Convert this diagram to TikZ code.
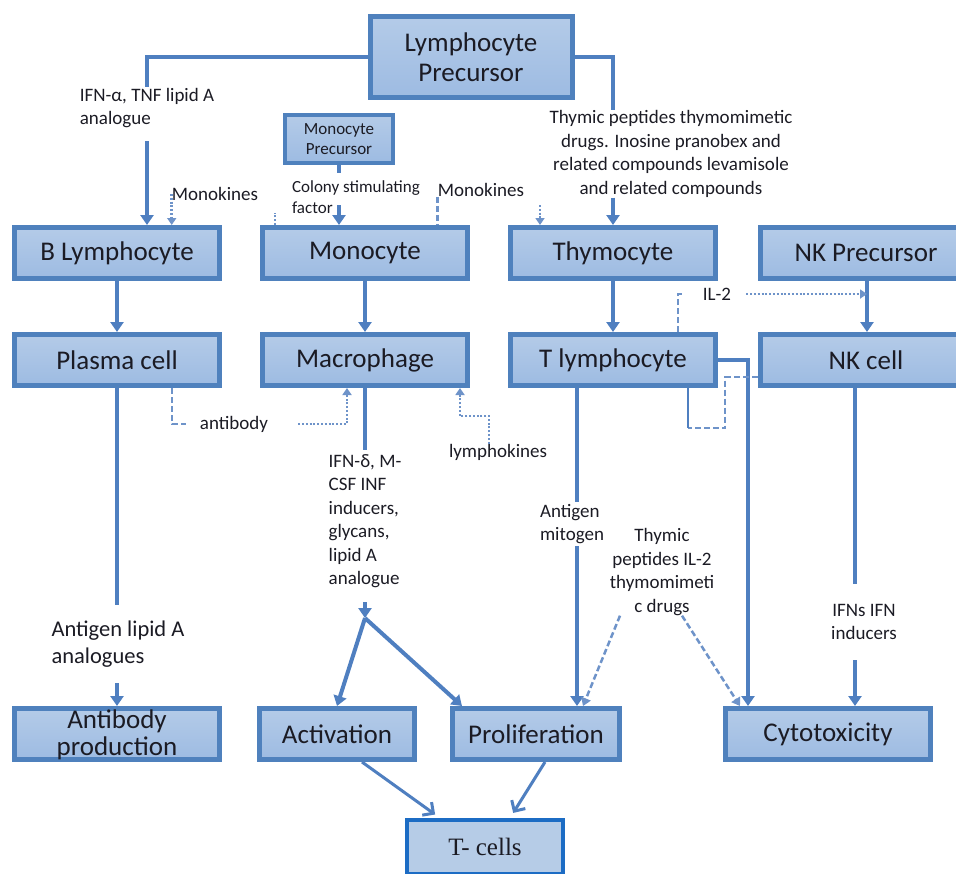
\documentclass[tikz,border=0pt]{standalone}
\usepackage{fontspec}
\setmainfont{Carlito}
\newfontfamily\serifcell{Liberation Serif}
\usetikzlibrary{arrows.meta}
\definecolor{boxline}{HTML}{4F81BD}
\definecolor{boxtop}{HTML}{B4CBE8}
\definecolor{boxbot}{HTML}{9DBBE2}
\definecolor{linkblue}{HTML}{4F7FC0}
\definecolor{dotblue}{HTML}{6E93C9}
\definecolor{tcline}{HTML}{1C6CC4}
\definecolor{tcfill}{HTML}{B6CCE7}
\definecolor{txt}{HTML}{1B1B24}

\begin{document}
\begin{tikzpicture}[x=1pt,y=-1pt,
  cell/.style={draw=boxline, line width=5pt, top color=boxtop, bottom color=boxbot,
    minimum height=51pt, inner sep=0pt, align=center, text=txt,
    font=\fontsize{27}{30}\selectfont},
  lab/.style={inner sep=0pt, text=txt, font=\fontsize{19}{23.5}\selectfont},
  link/.style={draw=linkblue, line width=4pt},
  arr/.style={link, -{Triangle[length=10pt,width=13pt]}},
  dotln/.style={draw=dotblue, line width=2.5pt, dash pattern=on 2pt off 1.8pt},
  dotarr/.style={dotln, -{Triangle[length=7pt,width=9pt]}},
  dashln/.style={draw=dotblue, line width=2.5pt, dash pattern=on 6pt off 3pt},
  dasharr/.style={dashln, -{Triangle[length=8pt,width=10pt]}},
  toT/.style={draw=linkblue, line width=3pt, shorten >=6pt,
    -{Straight Barb[length=8pt,width=16pt]}}
]
\useasboundingbox (0,0) rectangle (956,873);

% cells
\node[cell, minimum width=202pt, minimum height=81pt] (lymphpre) at (471,57) {Lymphocyte\\Precursor};
\node[cell, line width=4pt, minimum width=108pt, minimum height=48pt,
  font=\fontsize{17}{20}\selectfont] (monopre) at (339,139) {Monocyte\\Precursor};
\foreach \nm/\cx/\cy/\bw/\txt in {
  blym/117/253/205pt/B Lymphocyte,
  mono/365/253/205pt/Monocyte,
  thymo/613/253/205pt/Thymocyte,
  nkpre/866/253/212pt/NK Precursor,
  plasma/117/360/205pt/Plasma cell,
  macro/365/360/205pt/Macrophage,
  tlym/613/360/205pt/T lymphocyte,
  nkcell/866/360/212pt/NK cell,
  activ/337/734/155pt/Activation,
  prolif/536/734/167pt/Proliferation,
  cyto/828/734/205pt/Cytotoxicity}
  \node[cell, minimum width=\bw] (\nm) at (\cx,\cy) {\txt};
\node[cell, minimum width=205pt, text height=46.5pt, text depth=4.5pt,
  font=\fontsize{27}{27}\selectfont] (abprod) at (117,734) {Antibody\\production};
\node[cell, draw=tcline, line width=4pt, top color=tcfill, bottom color=tcfill,
  minimum width=156pt, minimum height=54pt,
  font=\serifcell\fontsize{25}{28}\selectfont] (tcells) at (485,847) {T- cells};

% labels
\node[lab, align=left, inner ysep=1pt] (ifnlab) at (147,108) {IFN-α, TNF lipid A\\analogue};
\node[lab, align=center] (thylab) at (671,154) {Thymic peptides thymomimetic\\drugs. Inosine pranobex and\\related compounds levamisole\\and related compounds};
\node[lab, align=left, font=\fontsize{17}{21}\selectfont] (csflab) at (356,197) {Colony stimulating\\factor};
\node[lab] (monok1) at (215,194) {Monokines};
\node[lab] (monok2) at (481,190) {Monokines};
\node[lab] (il2lab) at (717,294) {IL-2};
\node[lab] (ablab) at (234,424) {antibody};
\node[lab, align=left, inner ysep=4pt] (ifdlab) at (365,521) {IFN-δ, M-\\CSF INF\\inducers,\\glycans,\\lipid A\\analogue};
\node[lab] (lklab) at (498,452) {lymphokines};
\node[lab, align=left, inner ysep=2pt] (amlab) at (572,524) {Antigen\\mitogen};
\node[lab, align=center] (tplab) at (662,572) {Thymic\\peptides IL-2\\thymomimeti\\c drugs};
\node[lab, align=left, inner ysep=16pt, font=\fontsize{22.5}{27}\selectfont] (abglab) at (118,644) {Antigen lipid A\\analogues};
\node[lab, align=center, inner ysep=20pt] (ifnslab) at (864,622) {IFNs IFN\\inducers};

% from the lymphocyte precursor
\draw[link] (lymphpre.west) -| (ifnlab.north);
\draw[arr] ([yshift=-12pt]ifnlab.south) -- (ifnlab.south |- blym.north);
\draw[link] (lymphpre.east) -| (thylab.north -| thymo.north);
\draw[arr] (thylab.south -| thymo.north) -- (thymo.north);

% monocyte precursor
\draw[link, line width=3.5pt] (monopre.south) -- ++(0,8);
\draw[arr] ([yshift=-40pt]monopre.south) -- (monopre.south |- mono.north);

% monokines
\draw[dotarr] (monok1.west) -- (monok1.west |- blym.north);
\draw[dotln] ([xshift=-90pt]mono.north) -- ++(0,-12);
\draw[dashln] (monok2.south west) -- (monok2.south west |- mono.north);
\draw[dotarr] ([xshift=-73pt,yshift=20pt]thymo.north) -- ([xshift=-73pt]thymo.north);

% down the columns
\draw[arr] (blym) -- (plasma);
\draw[arr] (mono) -- (macro);
\draw[arr] (thymo) -- (tlym);
\draw[arr] ([xshift=1pt]nkpre.south) -- ([xshift=1pt]nkcell.north);

% IL-2
\draw[dashln] ([xshift=65pt]tlym.north) -- ++(0,-38) -- ++(5,0);
\draw[dotarr] ([xshift=15pt]il2lab.east) -- ([xshift=1pt]il2lab.east -| nkpre.south);

% plasma cell
\draw[link] (plasma) -- (abglab.north -| plasma.south);
\draw[arr] (abglab.south -| plasma.south) -- (abprod.north);
\draw[dashln] ([xshift=55pt]plasma.south) |- ([xshift=-14pt]ablab.west);
\draw[dotarr] ([xshift=30pt]ablab.east) -| ([xshift=-18pt]macro.south);

% macrophage
\path ([yshift=-26pt]ifdlab.south) coordinate (split);
\draw[link] (macro) -- (ifdlab.north -| macro.south);
\draw[arr] ([yshift=-10pt]ifdlab.south) -- (split);
\draw[arr] (split) -- (activ.north);
\draw[arr] (split) -- ([xshift=12pt]prolif.north west);
\coordinate (lk) at (460,416);
\draw[dotarr] ([xshift=-9pt]lklab.north) |- (lk) -- (lk |- macro.south);

% T lymphocyte
\path ([xshift=-36pt]tlym.south) coordinate (tl1);
\draw[link] (tl1) -- (tl1 |- amlab.north);
\draw[arr] (tl1 |- amlab.south) -- (tl1 |- prolif.north);
\draw[dasharr] ([xshift=-42pt]tplab.south) -- ([xshift=47pt]prolif.north);
\draw[dasharr] ([xshift=20pt]tplab.south) -- ([xshift=-88pt]cyto.north);
\draw[arr] (tlym.east) -| ([xshift=-80pt]cyto.north);

% NK cell
\path ([yshift=-17pt]nkcell.west) coordinate (nk0);
\coordinate (nkt) at (725,428);
\path ([xshift=75pt]tlym.south) coordinate (tl2);
\draw[dashln] (nk0) -| (nkt) -- (nkt -| tl2);
\draw[link, line width=1.5pt] (tl2) -- (tl2 |- nkt);
\path ([xshift=-11pt]nkcell.south) coordinate (nk1);
\draw[link] (nk1) -- (nk1 |- ifnslab.north);
\draw[arr] (nk1 |- ifnslab.south) -- (nk1 |- cyto.north);

% into T- cells
\draw[toT] ([xshift=25pt]activ.south) -- ([xshift=-45pt]tcells.north);
\draw[toT] ([xshift=9pt]prolif.south) -- ([xshift=25pt]tcells.north);
\end{tikzpicture}
\end{document}
